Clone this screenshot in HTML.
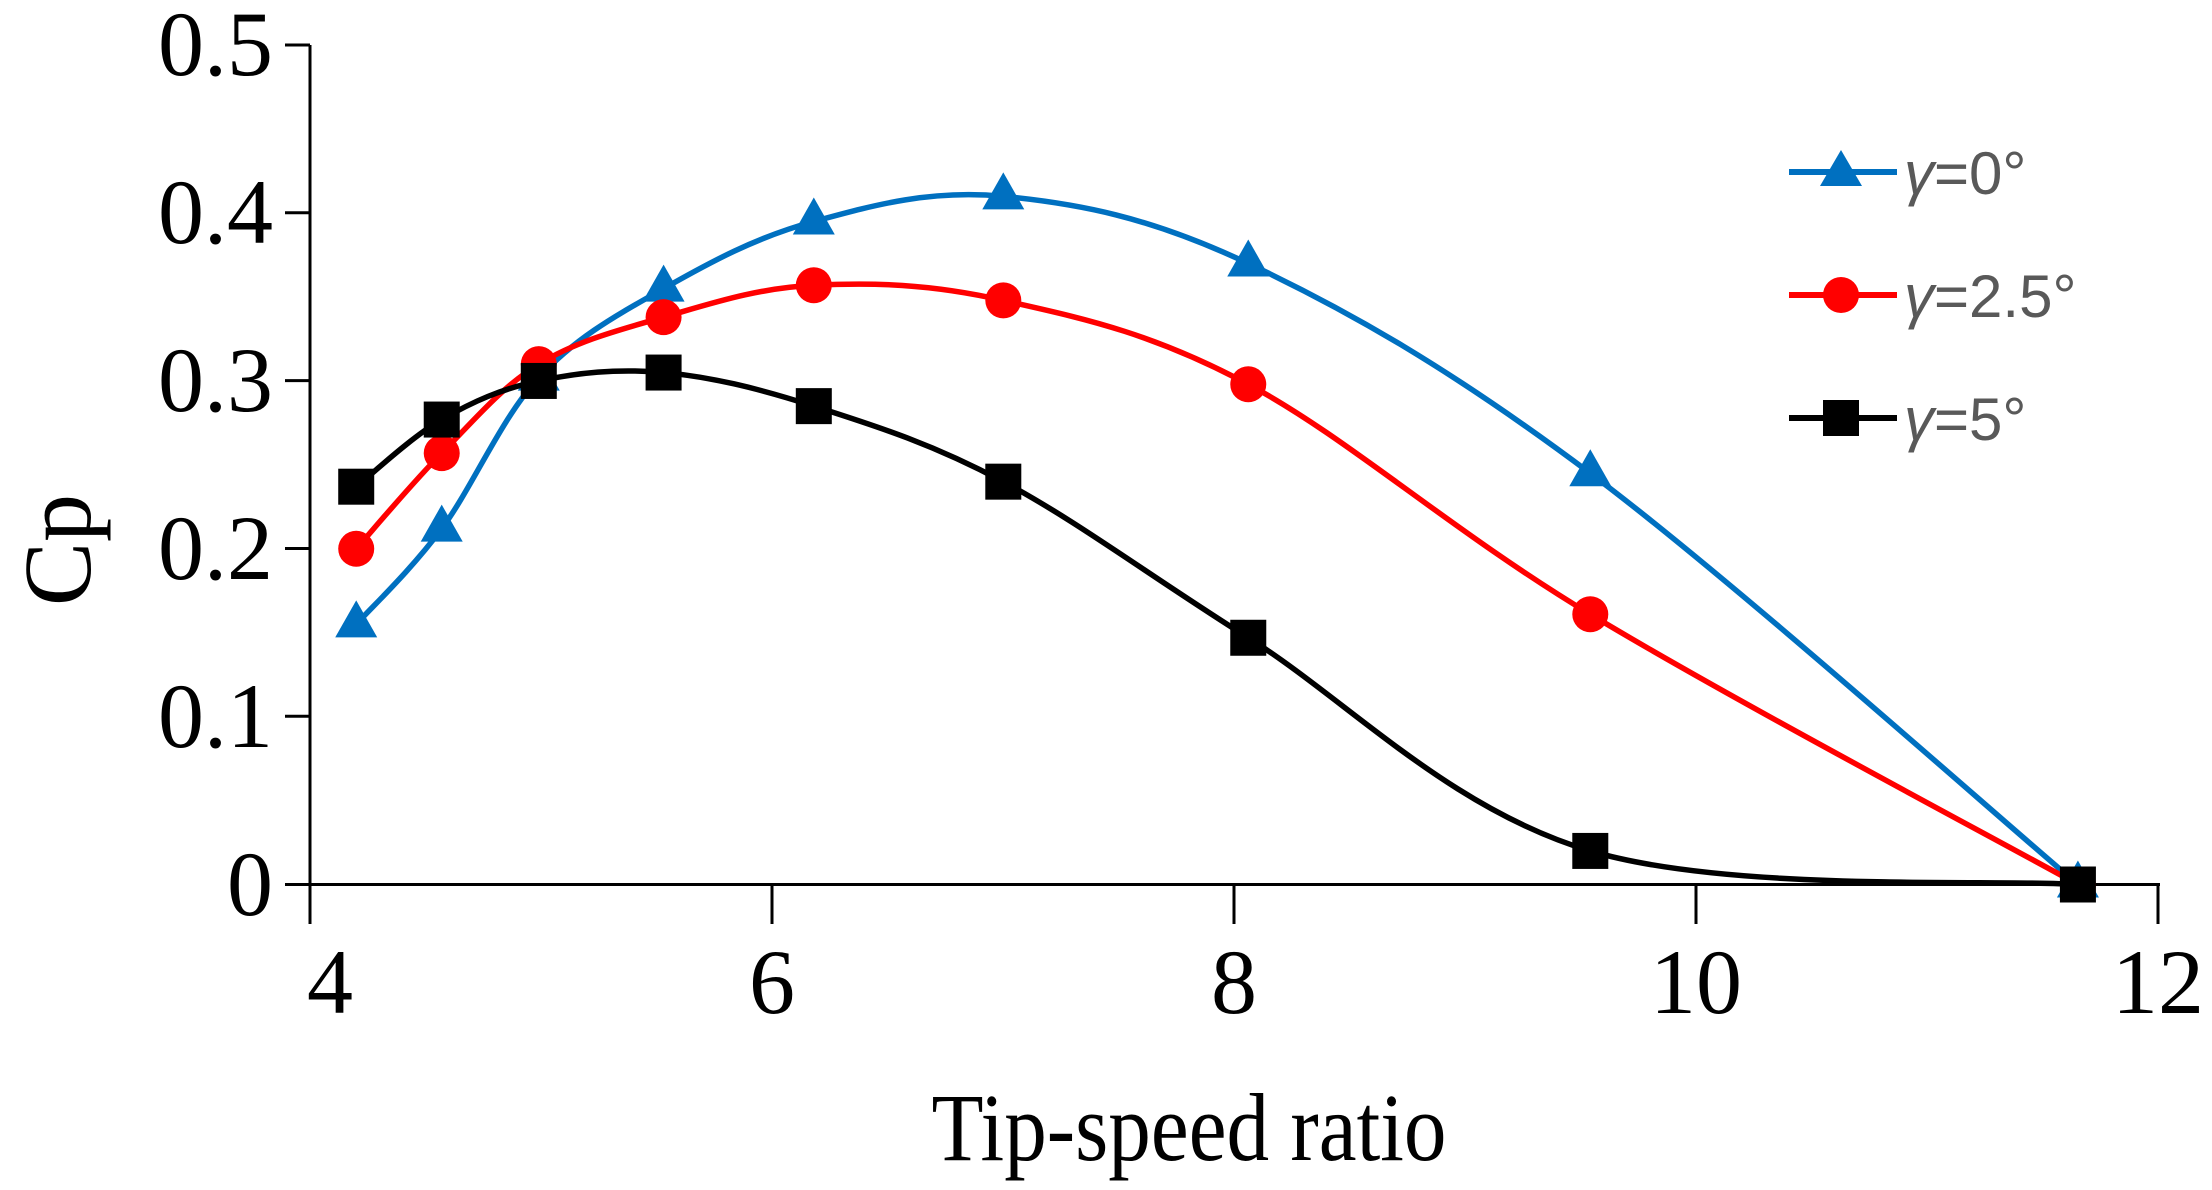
<!DOCTYPE html>
<html><head><meta charset="utf-8"><style>body{margin:0;background:#fff}svg{display:block}</style></head>
<body>
<svg id="s" width="2212" height="1190" viewBox="0 0 2212 1190" xmlns="http://www.w3.org/2000/svg">
<g stroke="#000" stroke-width="3" fill="none">
<line x1="310" y1="45" x2="310" y2="884"/>
<line x1="309" y1="884.5" x2="2160" y2="884.5"/>
<line x1="285" y1="45" x2="310" y2="45"/>
<line x1="285" y1="212.8" x2="310" y2="212.8"/>
<line x1="285" y1="380.6" x2="310" y2="380.6"/>
<line x1="285" y1="548.5" x2="310" y2="548.5"/>
<line x1="285" y1="716.3" x2="310" y2="716.3"/>
<line x1="285" y1="884.5" x2="310" y2="884.5"/>
<line x1="310" y1="884" x2="310" y2="924"/>
<line x1="772" y1="884" x2="772" y2="924"/>
<line x1="1234" y1="884" x2="1234" y2="924"/>
<line x1="1696" y1="884" x2="1696" y2="924"/>
<line x1="2158" y1="884" x2="2158" y2="924"/>
</g>
<g font-family="Liberation Serif, serif" font-size="92" fill="#000" text-anchor="end">
<text x="273" y="75">0.5</text>
<text x="273" y="243">0.4</text>
<text x="273" y="411">0.3</text>
<text x="273" y="579">0.2</text>
<text x="273" y="747">0.1</text>
<text x="273" y="915">0</text>
</g>
<g font-family="Liberation Serif, serif" font-size="92" fill="#000" text-anchor="middle">
<text x="330" y="1013">4</text>
<text x="772" y="1013">6</text>
<text x="1234" y="1013">8</text>
<text x="1696" y="1013">10</text>
<text x="2158" y="1013">12</text>
<text x="1189" y="1160" font-size="96" textLength="515" lengthAdjust="spacingAndGlyphs">Tip-speed ratio</text>
<text transform="translate(90,550) rotate(-90)" font-size="96">Cp</text>
</g>
<g id="series"></g>
<g font-family="Liberation Sans, sans-serif" font-size="60" fill="#595959">
<line x1="1789" y1="172" x2="1897" y2="172" stroke="#0070C0" stroke-width="6"/>
<polygon points="1841,150 1862,186 1820,186" fill="#0070C0"/>
<text x="1904" y="194"><tspan font-style="italic">γ</tspan>=0°</text>
<line x1="1789" y1="295" x2="1897" y2="295" stroke="#FF0000" stroke-width="6"/>
<circle cx="1841" cy="295" r="18" fill="#FF0000"/>
<text x="1904" y="317"><tspan font-style="italic">γ</tspan>=2.5°</text>
<line x1="1789" y1="418" x2="1897" y2="418" stroke="#000" stroke-width="6"/>
<rect x="1823" y="400" width="36" height="36" fill="#000"/>
<text x="1904" y="440"><tspan font-style="italic">γ</tspan>=5°</text>
</g>
</svg>
<script>
var X=[4.2,4.57,4.99,5.53,6.18,7.0,8.06,9.54,11.65];
var S=[
 {c:"#0070C0",m:"t",y:[0.155,0.212,0.302,0.355,0.395,0.41,0.37,0.245,0.0]},
 {c:"#FF0000",m:"c",y:[0.20,0.257,0.31,0.338,0.357,0.348,0.298,0.161,0.0]},
 {c:"#000000",m:"s",y:[0.237,0.277,0.30,0.305,0.285,0.24,0.147,0.02,0.0]}];
function px(x){return 310+(x-4)*231.1}
function py(y){return 884.5-y*1678.5}
var g=document.getElementById("series"),h="";
S.forEach(function(s){
 var P=X.map(function(x,i){return [px(x),py(s.y[i])]});
 var d="M"+P[0][0]+","+P[0][1];
 for(var i=0;i<P.length-1;i++){
  var p0=P[Math.max(i-1,0)],p1=P[i],p2=P[i+1],p3=P[Math.min(i+2,P.length-1)],t=0.34;
  var c1=[p1[0]+(p2[0]-p0[0])*t/2,p1[1]+(p2[1]-p0[1])*t/2];
  var c2=[p2[0]-(p3[0]-p1[0])*t/2,p2[1]-(p3[1]-p1[1])*t/2];
  d+=" C"+c1+" "+c2+" "+p2;
 }
 h+='<path d="'+d+'" fill="none" stroke="'+s.c+'" stroke-width="5.5"/>';
 P.forEach(function(p){
  if(s.m=="t")h+='<polygon points="'+p[0]+','+(p[1]-24)+' '+(p[0]+21)+','+(p[1]+13)+' '+(p[0]-21)+','+(p[1]+13)+'" fill="'+s.c+'"/>';
  else if(s.m=="c")h+='<circle cx="'+p[0]+'" cy="'+p[1]+'" r="18" fill="'+s.c+'"/>';
  else h+='<rect x="'+(p[0]-18)+'" y="'+(p[1]-18)+'" width="36" height="36" fill="'+s.c+'"/>';
 });
});
g.innerHTML=h;
</script>
</body></html>
